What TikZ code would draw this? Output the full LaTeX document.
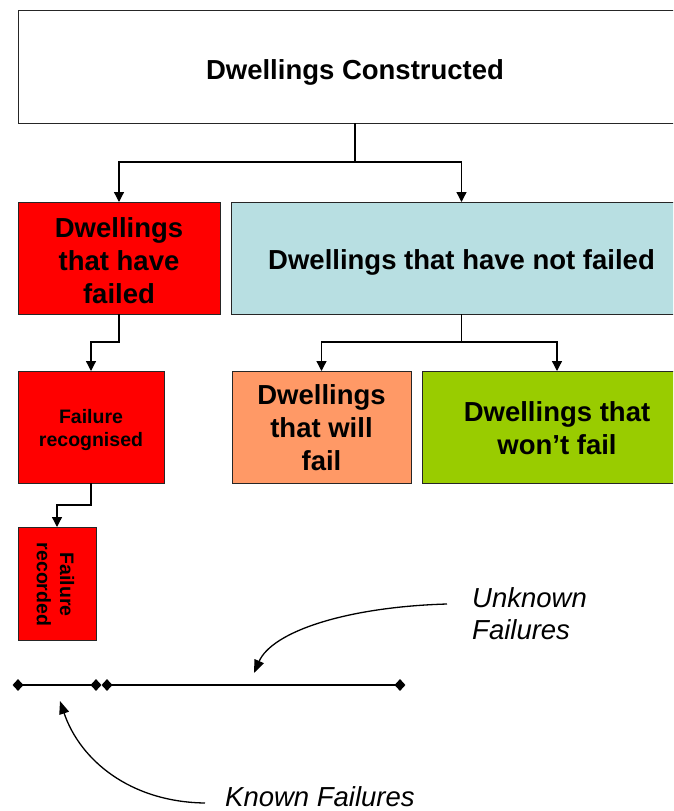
\documentclass[tikz,border=0pt]{standalone}
\usepackage{fontspec}
\setmainfont{Liberation Sans}
\usetikzlibrary{arrows.meta,shapes.geometric,calc}
\definecolor{cred}{HTML}{FF0000}
\definecolor{cblue}{HTML}{B8DFE2}
\definecolor{corange}{HTML}{FF9966}
\definecolor{cgreen}{HTML}{99CC00}
\tikzset{
  box/.style={draw=black!85,line width=0.9pt,rectangle,inner sep=0pt,outer sep=0pt},
  bigtext/.style={inner sep=0pt,align=center,font=\fontsize{27.5pt}{33pt}\selectfont\bfseries},
  smalltext/.style={inner sep=0pt,align=center,font=\fontsize{19.5pt}{23.4pt}\selectfont\bfseries},
  conn/.style={line width=1.3pt,-{Triangle[length=10pt,width=10pt]}},
  plainconn/.style={line width=1.3pt},
  curvearrow/.style={line width=1.3pt,-{Triangle[length=13pt,width=10pt]}},
  dmd/.style={diamond,fill=black,inner sep=0pt,minimum width=11pt,minimum height=12pt},
  note/.style={font=\fontsize{27.5pt}{32pt}\selectfont\itshape,align=left,inner sep=0pt}
}
\begin{document}
\begin{tikzpicture}[x=1pt,y=-1pt]
\useasboundingbox (0,0) rectangle (673,811);
\clip (0,0) rectangle (673,811);
\node[box,fill=white,minimum width=674pt,minimum height=113pt] (top) at (355,66.5) {};
\node[bigtext] (topT) at ($(top.center)+(0,6)$) {Dwellings Constructed};
\node[box,fill=cred,minimum width=202pt,minimum height=112pt] (failed) at (119,258) {};
\node[bigtext] (failedT) at ($(failed.center)+(0,3)$) {Dwellings\\that have\\failed};
\node[box,fill=cblue,minimum width=461pt,minimum height=112pt] (notfailed) at (461.5,258) {};
\node[bigtext] (notfailedT) at ($(notfailed.center)+(0,4)$) {Dwellings that have not failed};
\node[box,fill=cred,minimum width=146pt,minimum height=112pt] (recog) at (91,427) {};
\node[smalltext] (recogT) at ($(recog.center)+(0,3)$) {Failure\\recognised};
\node[box,fill=corange,minimum width=179pt,minimum height=112pt] (will) at (321.5,427) {};
\node[bigtext] (willT) at ($(will.center)+(0,0.5)$) {Dwellings\\that will\\fail};
\node[box,fill=cgreen,minimum width=270pt,minimum height=112pt] (wont) at (557,427) {};
\node[bigtext] (wontT) at ($(wont.center)+(0,1.5)$) {Dwellings that\\won’t fail};
\node[box,fill=cred,minimum width=78pt,minimum height=113pt] (recorded) at (57,583.5) {};
\node[smalltext,rotate=-90] (recordedT) at ($(recorded.center)+(-1.5,1)$) {Failure\\recorded};

\coordinate (j1) at (355,162);
\draw[plainconn] (top.south) -- (j1);
\draw[conn] (j1) -| (failed.north);
\draw[conn] (j1) -| (notfailed.north);

\draw[conn] (failed.south) -- ++(0,28) -| (recog.north);

\coordinate (j2) at (461.5,342);
\draw[plainconn] (notfailed.south) -- (j2);
\draw[conn] (j2) -| (will.north);
\draw[conn] (j2) -| (wont.north);

\draw[conn] (recog.south) -- ++(0,22) -| (recorded.north);

\node[dmd] (d1) at (18,685) {};
\node[dmd] (d2) at (96,685) {};
\node[dmd] (d3) at (107,685) {};
\node[dmd] (d4) at (400,685) {};
\draw[line width=1.5pt] (d1.center) -- (d2.center);
\draw[line width=1.5pt] (d3.center) -- (d4.center);

\node[note,anchor=west] (unk) at (472,614) {Unknown\\Failures};
\node[note,anchor=west] (known) at (225,797) {Known Failures};

\coordinate (u1) at (447,604);
\coordinate (u2) at (254,673);
\draw[curvearrow] (u1) .. controls (345,607) and (272,632) .. (u2);
\coordinate (k1) at (205,803);
\coordinate (k2) at (60,701);
\draw[curvearrow] (k1) .. controls (130,802) and (80,760) .. (k2);
\end{tikzpicture}
\end{document}
